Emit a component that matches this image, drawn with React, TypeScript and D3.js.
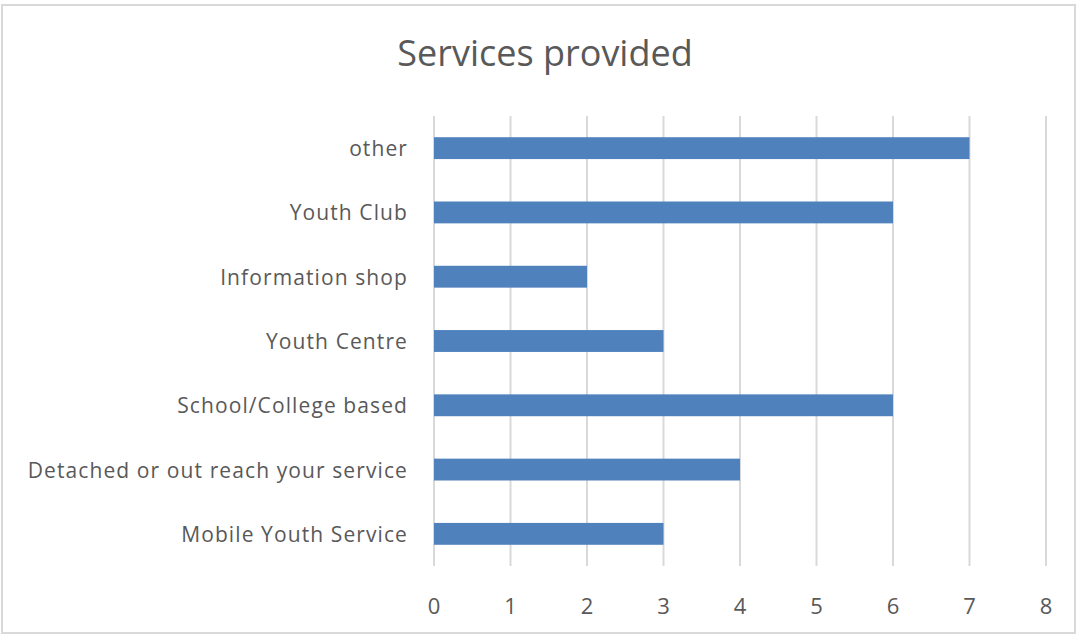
import { useEffect, useRef } from 'react'
import * as d3 from 'd3'

const CATEGORIES = [
  'other',
  'Youth Club',
  'Information shop',
  'Youth Centre',
  'School/College based',
  'Detached or out reach your service',
  'Mobile Youth Service'
]
const VALUES = [7, 6, 2, 3, 6, 4, 3]
const TICKS = [0, 1, 2, 3, 4, 5, 6, 7, 8]

const W = 1077
const H = 635
const FONT = '"Open Sans", "Noto Sans", sans-serif'

export default function App() {
  const ref = useRef<SVGSVGElement | null>(null)

  useEffect(() => {
    if (!ref.current) return
    const svg = d3.select(ref.current)
    svg.selectAll('*').remove()

    const margin = { left: 434, right: W - 1046, top: 116, bottom: H - 566 }

    // frame
    svg.append('rect')
      .attr('x', 2).attr('y', 5).attr('width', W - 4).attr('height', H - 7)
      .attr('fill', '#fff').attr('stroke', '#d9d9d9').attr('stroke-width', 2)

    svg.append('text')
      .attr('x', 545).attr('y', 66)
      .attr('text-anchor', 'middle')
      .attr('fill', '#595959')
      .attr('font-family', FONT)
      .attr('font-size', '36px')
      .text('Services provided')

    const x = d3.scaleLinear().domain([0, 8]).range([margin.left, W - margin.right])
    const y = d3.scaleBand().domain(CATEGORIES).range([margin.top, H - margin.bottom]).paddingInner(0.66).paddingOuter(0.33)

    // gridlines
    svg.append('g').selectAll('line').data(TICKS).join('line')
      .attr('x1', (d) => x(d)).attr('x2', (d) => x(d))
      .attr('y1', margin.top).attr('y2', H - margin.bottom)
      .attr('stroke', '#d9d9d9').attr('stroke-width', 2)

    // bars
    svg.append('g').selectAll('rect').data(CATEGORIES).join('rect')
      .attr('x', x(0))
      .attr('y', (d) => y(d) as number)
      .attr('width', (_, i) => x(VALUES[i]) - x(0))
      .attr('height', y.bandwidth())
      .attr('fill', '#4f81bd')

    // category labels
    svg.append('g').selectAll('text').data(CATEGORIES).join('text')
      .attr('x', 408)
      .attr('y', (d) => (y(d) as number) + y.bandwidth() / 2)
      .attr('text-anchor', 'end')
      .attr('dominant-baseline', 'central')
      .attr('fill', '#595959')
      .attr('font-family', FONT)
      .attr('font-size', '21px')
      .attr('letter-spacing', '1.1px')
      .text((d) => d)

    // tick labels
    svg.append('g').selectAll('text').data(TICKS).join('text')
      .attr('x', (d) => x(d))
      .attr('y', 605)
      .attr('text-anchor', 'middle')
      .attr('dominant-baseline', 'central')
      .attr('fill', '#595959')
      .attr('font-family', FONT)
      .attr('font-size', '22px')
      .text((d) => String(d))
  }, [])

  return (
    <svg ref={ref} width={W} height={H} style={{ position: 'absolute', left: 0, top: 0, display: 'block' }} />
  )
}
